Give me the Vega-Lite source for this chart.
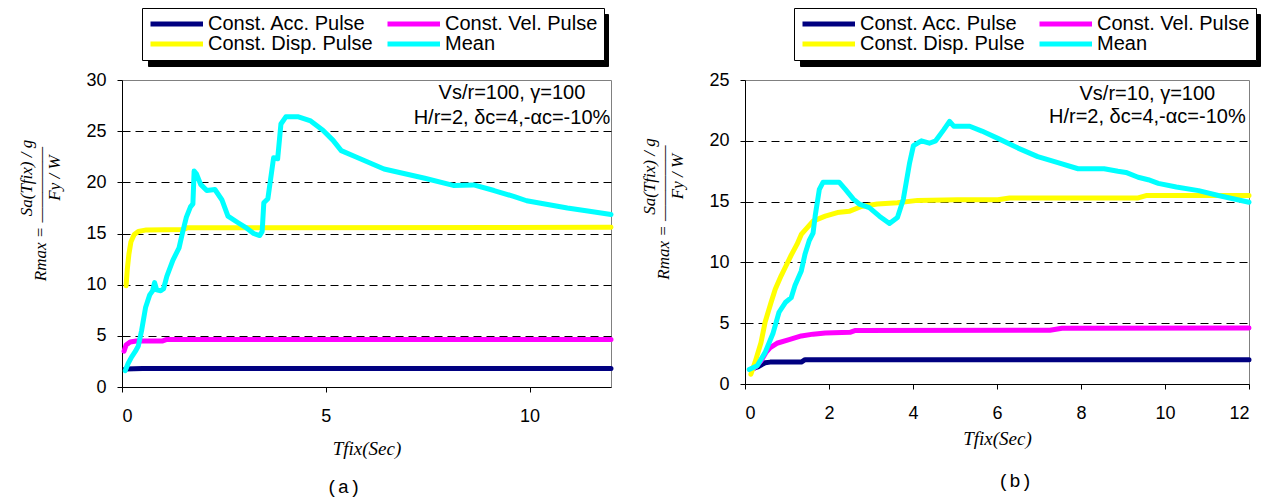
{
  "$schema": "https://vega.github.io/schema/vega-lite/v6.json",
  "padding": {"left": 17, "top": 7, "right": 2, "bottom": 5},
  "background": "white",
  "spacing": 26,
  "datasets": {
    "a": [
      {"s": "Const. Acc. Pulse", "t": 0.08, "r": 1.75},
      {"s": "Const. Acc. Pulse", "t": 0.5, "r": 1.8},
      {"s": "Const. Acc. Pulse", "t": 12, "r": 1.8},
      {"s": "Const. Vel. Pulse", "t": 0.05, "r": 3.5},
      {"s": "Const. Vel. Pulse", "t": 0.1, "r": 4.1},
      {"s": "Const. Vel. Pulse", "t": 0.2, "r": 4.4},
      {"s": "Const. Vel. Pulse", "t": 0.35, "r": 4.5},
      {"s": "Const. Vel. Pulse", "t": 1.0, "r": 4.5},
      {"s": "Const. Vel. Pulse", "t": 1.1, "r": 4.65},
      {"s": "Const. Vel. Pulse", "t": 12, "r": 4.65},
      {"s": "Const. Disp. Pulse", "t": 0.1, "r": 9.9},
      {"s": "Const. Disp. Pulse", "t": 0.13, "r": 11.5},
      {"s": "Const. Disp. Pulse", "t": 0.17, "r": 13.0},
      {"s": "Const. Disp. Pulse", "t": 0.22, "r": 14.2},
      {"s": "Const. Disp. Pulse", "t": 0.3, "r": 14.9},
      {"s": "Const. Disp. Pulse", "t": 0.4, "r": 15.2},
      {"s": "Const. Disp. Pulse", "t": 0.6, "r": 15.35},
      {"s": "Const. Disp. Pulse", "t": 1.5, "r": 15.4},
      {"s": "Const. Disp. Pulse", "t": 1.6, "r": 15.55},
      {"s": "Const. Disp. Pulse", "t": 12, "r": 15.6},
      {"s": "Mean", "t": 0.08, "r": 1.6},
      {"s": "Mean", "t": 0.15, "r": 2.3},
      {"s": "Mean", "t": 0.23, "r": 2.9},
      {"s": "Mean", "t": 0.33, "r": 3.5},
      {"s": "Mean", "t": 0.4, "r": 4.0},
      {"s": "Mean", "t": 0.48, "r": 5.5},
      {"s": "Mean", "t": 0.58, "r": 7.8},
      {"s": "Mean", "t": 0.68, "r": 9.0},
      {"s": "Mean", "t": 0.75, "r": 9.4},
      {"s": "Mean", "t": 0.8, "r": 10.2},
      {"s": "Mean", "t": 0.85, "r": 9.5},
      {"s": "Mean", "t": 0.95, "r": 9.4},
      {"s": "Mean", "t": 1.02, "r": 9.6},
      {"s": "Mean", "t": 1.1, "r": 10.8},
      {"s": "Mean", "t": 1.25, "r": 12.4},
      {"s": "Mean", "t": 1.4, "r": 13.6},
      {"s": "Mean", "t": 1.48, "r": 15.0},
      {"s": "Mean", "t": 1.58, "r": 16.6},
      {"s": "Mean", "t": 1.68, "r": 17.6},
      {"s": "Mean", "t": 1.74, "r": 17.9},
      {"s": "Mean", "t": 1.77, "r": 21.1},
      {"s": "Mean", "t": 1.83, "r": 20.8},
      {"s": "Mean", "t": 1.93, "r": 19.8},
      {"s": "Mean", "t": 2.08, "r": 19.2},
      {"s": "Mean", "t": 2.28, "r": 19.3},
      {"s": "Mean", "t": 2.45, "r": 18.3},
      {"s": "Mean", "t": 2.6, "r": 16.7},
      {"s": "Mean", "t": 2.83, "r": 16.1},
      {"s": "Mean", "t": 3.03, "r": 15.6},
      {"s": "Mean", "t": 3.23, "r": 15.0},
      {"s": "Mean", "t": 3.38, "r": 14.8},
      {"s": "Mean", "t": 3.44, "r": 15.2},
      {"s": "Mean", "t": 3.48, "r": 18.0},
      {"s": "Mean", "t": 3.58, "r": 18.4},
      {"s": "Mean", "t": 3.72, "r": 22.4},
      {"s": "Mean", "t": 3.82, "r": 22.3},
      {"s": "Mean", "t": 3.9, "r": 25.7},
      {"s": "Mean", "t": 4.02, "r": 26.4},
      {"s": "Mean", "t": 4.33, "r": 26.4},
      {"s": "Mean", "t": 4.63, "r": 26.0},
      {"s": "Mean", "t": 4.93, "r": 25.1},
      {"s": "Mean", "t": 5.18, "r": 24.1},
      {"s": "Mean", "t": 5.38, "r": 23.1},
      {"s": "Mean", "t": 5.73, "r": 22.5},
      {"s": "Mean", "t": 6.43, "r": 21.3},
      {"s": "Mean", "t": 7.43, "r": 20.4},
      {"s": "Mean", "t": 8.13, "r": 19.7},
      {"s": "Mean", "t": 8.63, "r": 19.75},
      {"s": "Mean", "t": 9.13, "r": 19.2},
      {"s": "Mean", "t": 9.63, "r": 18.6},
      {"s": "Mean", "t": 9.93, "r": 18.2},
      {"s": "Mean", "t": 10.93, "r": 17.5},
      {"s": "Mean", "t": 11.43, "r": 17.2},
      {"s": "Mean", "t": 12, "r": 16.85}
    ],
    "b": [
      {"s": "Const. Acc. Pulse", "t": 0.14, "r": 1.2},
      {"s": "Const. Acc. Pulse", "t": 0.3, "r": 1.4},
      {"s": "Const. Acc. Pulse", "t": 0.48, "r": 1.75},
      {"s": "Const. Acc. Pulse", "t": 0.6, "r": 1.8},
      {"s": "Const. Acc. Pulse", "t": 1.34, "r": 1.8},
      {"s": "Const. Acc. Pulse", "t": 1.43, "r": 2.0},
      {"s": "Const. Acc. Pulse", "t": 12, "r": 2.0},
      {"s": "Const. Vel. Pulse", "t": 0.14, "r": 1.1},
      {"s": "Const. Vel. Pulse", "t": 0.25, "r": 1.4},
      {"s": "Const. Vel. Pulse", "t": 0.38, "r": 1.9},
      {"s": "Const. Vel. Pulse", "t": 0.5, "r": 2.6},
      {"s": "Const. Vel. Pulse", "t": 0.6, "r": 3.0},
      {"s": "Const. Vel. Pulse", "t": 0.76, "r": 3.35},
      {"s": "Const. Vel. Pulse", "t": 1.05, "r": 3.65},
      {"s": "Const. Vel. Pulse", "t": 1.34, "r": 3.95},
      {"s": "Const. Vel. Pulse", "t": 1.62, "r": 4.1},
      {"s": "Const. Vel. Pulse", "t": 1.91, "r": 4.2},
      {"s": "Const. Vel. Pulse", "t": 2.5, "r": 4.25},
      {"s": "Const. Vel. Pulse", "t": 2.63, "r": 4.4},
      {"s": "Const. Vel. Pulse", "t": 7.26, "r": 4.42},
      {"s": "Const. Vel. Pulse", "t": 7.55, "r": 4.58},
      {"s": "Const. Vel. Pulse", "t": 12, "r": 4.6},
      {"s": "Const. Disp. Pulse", "t": 0.14, "r": 0.8},
      {"s": "Const. Disp. Pulse", "t": 0.24, "r": 1.8},
      {"s": "Const. Disp. Pulse", "t": 0.38, "r": 3.4},
      {"s": "Const. Disp. Pulse", "t": 0.48, "r": 5.1},
      {"s": "Const. Disp. Pulse", "t": 0.62, "r": 6.7},
      {"s": "Const. Disp. Pulse", "t": 0.72, "r": 7.8},
      {"s": "Const. Disp. Pulse", "t": 0.86, "r": 8.9},
      {"s": "Const. Disp. Pulse", "t": 0.96, "r": 9.6},
      {"s": "Const. Disp. Pulse", "t": 1.1, "r": 10.6},
      {"s": "Const. Disp. Pulse", "t": 1.24, "r": 11.5},
      {"s": "Const. Disp. Pulse", "t": 1.34, "r": 12.3},
      {"s": "Const. Disp. Pulse", "t": 1.62, "r": 13.4},
      {"s": "Const. Disp. Pulse", "t": 1.91, "r": 13.8},
      {"s": "Const. Disp. Pulse", "t": 2.2, "r": 14.1},
      {"s": "Const. Disp. Pulse", "t": 2.48, "r": 14.2},
      {"s": "Const. Disp. Pulse", "t": 2.77, "r": 14.6},
      {"s": "Const. Disp. Pulse", "t": 3.15, "r": 14.8},
      {"s": "Const. Disp. Pulse", "t": 3.63, "r": 14.9},
      {"s": "Const. Disp. Pulse", "t": 4.11, "r": 15.1},
      {"s": "Const. Disp. Pulse", "t": 5.06, "r": 15.15},
      {"s": "Const. Disp. Pulse", "t": 6.02, "r": 15.15},
      {"s": "Const. Disp. Pulse", "t": 6.3, "r": 15.3},
      {"s": "Const. Disp. Pulse", "t": 9.36, "r": 15.3},
      {"s": "Const. Disp. Pulse", "t": 9.55, "r": 15.5},
      {"s": "Const. Disp. Pulse", "t": 12, "r": 15.5},
      {"s": "Mean", "t": 0.1, "r": 1.2},
      {"s": "Mean", "t": 0.29, "r": 1.5},
      {"s": "Mean", "t": 0.48, "r": 2.6},
      {"s": "Mean", "t": 0.67, "r": 4.2},
      {"s": "Mean", "t": 0.81, "r": 5.9},
      {"s": "Mean", "t": 0.96, "r": 6.7},
      {"s": "Mean", "t": 1.1, "r": 7.1},
      {"s": "Mean", "t": 1.19, "r": 8.1},
      {"s": "Mean", "t": 1.34, "r": 9.3},
      {"s": "Mean", "t": 1.43, "r": 10.7},
      {"s": "Mean", "t": 1.53, "r": 11.8},
      {"s": "Mean", "t": 1.62, "r": 12.4},
      {"s": "Mean", "t": 1.67, "r": 13.8},
      {"s": "Mean", "t": 1.77, "r": 16.0},
      {"s": "Mean", "t": 1.86, "r": 16.6},
      {"s": "Mean", "t": 2.24, "r": 16.6},
      {"s": "Mean", "t": 2.39, "r": 16.0},
      {"s": "Mean", "t": 2.58, "r": 15.2},
      {"s": "Mean", "t": 2.72, "r": 14.8},
      {"s": "Mean", "t": 2.96, "r": 14.5},
      {"s": "Mean", "t": 3.2, "r": 13.8},
      {"s": "Mean", "t": 3.44, "r": 13.2},
      {"s": "Mean", "t": 3.63, "r": 13.7},
      {"s": "Mean", "t": 3.77, "r": 15.2},
      {"s": "Mean", "t": 3.92, "r": 18.2},
      {"s": "Mean", "t": 4.01, "r": 19.6},
      {"s": "Mean", "t": 4.2, "r": 20.0},
      {"s": "Mean", "t": 4.39, "r": 19.8},
      {"s": "Mean", "t": 4.54, "r": 20.0},
      {"s": "Mean", "t": 4.73, "r": 20.9},
      {"s": "Mean", "t": 4.87, "r": 21.6},
      {"s": "Mean", "t": 4.97, "r": 21.2},
      {"s": "Mean", "t": 5.35, "r": 21.2},
      {"s": "Mean", "t": 5.64, "r": 20.8},
      {"s": "Mean", "t": 6.02, "r": 20.2},
      {"s": "Mean", "t": 6.5, "r": 19.4},
      {"s": "Mean", "t": 6.97, "r": 18.7},
      {"s": "Mean", "t": 7.45, "r": 18.2},
      {"s": "Mean", "t": 7.93, "r": 17.7},
      {"s": "Mean", "t": 8.55, "r": 17.7},
      {"s": "Mean", "t": 8.88, "r": 17.5},
      {"s": "Mean", "t": 9.07, "r": 17.4},
      {"s": "Mean", "t": 9.36, "r": 17.0},
      {"s": "Mean", "t": 9.6, "r": 16.8},
      {"s": "Mean", "t": 9.84, "r": 16.5},
      {"s": "Mean", "t": 10.27, "r": 16.2},
      {"s": "Mean", "t": 10.8, "r": 15.9},
      {"s": "Mean", "t": 11.27, "r": 15.5},
      {"s": "Mean", "t": 12, "r": 14.95}
    ]
  },
  "config": {
    "view": {"stroke": "#808080", "strokeWidth": 1},
    "axis": {
      "domainColor": "black",
      "tickColor": "black",
      "tickSize": 5,
      "labelFont": "Liberation Sans",
      "labelFontSize": 18,
      "labelColor": "black",
      "titleFont": "Liberation Serif",
      "titleFontStyle": "italic",
      "titleFontWeight": "normal",
      "titleColor": "black"
    },
    "legend": {
      "orient": "none",
      "legendY": -72,
      "columns": 2,
      "symbolType": "M-1.5,0H9",
      "symbolSize": 100,
      "symbolStrokeWidth": 5,
      "labelFont": "Liberation Sans",
      "labelFontSize": 20,
      "labelOffset": 40,
      "labelColor": "black",
      "labelLimit": 300,
      "strokeColor": "black",
      "fillColor": "white",
      "padding": 6,
      "rowPadding": 0,
      "columnPadding": 4
    },
    "title": {"font": "Liberation Mono", "fontSize": 19, "fontWeight": "normal", "color": "black"}
  },
  "hconcat": [
    {
      "width": 489,
      "height": 307,
      "title": {"text": "(a)", "orient": "bottom", "dx": -23, "offset": 20},
      "layer": [
        {
          "data": {"name": "a"},
          "mark": {"type": "line", "strokeWidth": 5, "strokeJoin": "round", "strokeCap": "round"},
          "encoding": {
            "x": {
              "field": "t", "type": "quantitative",
              "scale": {"domain": [0, 12], "nice": false},
              "axis": {"values": [0, 5, 10], "title": "Tfix(Sec)", "labelPadding": 15, "titleFontSize": 19, "titlePadding": 14, "grid": false}
            },
            "y": {
              "field": "r", "type": "quantitative",
              "scale": {"domain": [0, 30], "nice": false},
              "axis": {
                "values": [0, 5, 10, 15, 20, 25, 30],
                "title": ["\u2800\u2800\u2800\u2800\u2800\u2800Sa(Tfix) / g", "Rmax = \u2014\u2014\u2014\u2014\u2014", "\u2800\u2800\u2800\u2800\u2800\u2800Fy / W"],
                "titleFontSize": 17,
                "titleLineHeight": 14,
                "titlePadding": 22,
                "titleY": 133.5,
                "labelPadding": 11,
                "grid": true,
                "gridColor": "black",
                "gridDash": [8, 5],
                "gridOpacity": {"condition": {"test": "datum.value == 0 || datum.value == 30", "value": 0}, "value": 1}
              }
            },
            "color": {
              "field": "s", "type": "nominal",
              "scale": {"domain": ["Const. Acc. Pulse", "Const. Disp. Pulse", "Const. Vel. Pulse", "Mean"], "range": ["#000080", "#FFFF00", "#FF00FF", "#00FFFF"]},
              "legend": {"title": null, "legendX": 20, "zindex": 2}
            },
            "opacity": {
              "field": "s", "type": "nominal",
              "scale": {"domain": ["Const. Acc. Pulse", "Const. Vel. Pulse", "Const. Disp. Pulse", "Mean"], "range": [1, 1, 1, 1]},
              "legend": {"title": null, "legendX": 26, "legendY": -66, "zindex": 1, "labelExpr": "''", "labelOffset": 198, "fillColor": "black", "strokeColor": "black", "symbolStrokeColor": "black", "symbolFillColor": "black"}
            }
          }
        },
        {
          "data": {"values": [{}]},
          "mark": {"type": "text", "font": "Liberation Sans", "fontSize": 20, "lineHeight": 25, "align": "center", "baseline": "middle", "color": "black"},
          "encoding": {
            "x": {"datum": 9.57},
            "y": {"datum": 28.7},
            "text": {"value": ["Vs/r=100, γ=100", "H/r=2, δc=4,-αc=-10%"]}
          }
        }
      ]
    },
    {
      "width": 504,
      "height": 304,
      "title": {"text": "(b)", "orient": "bottom", "dx": 18, "offset": 24},
      "layer": [
        {
          "data": {"name": "b"},
          "mark": {"type": "line", "strokeWidth": 5, "strokeJoin": "round", "strokeCap": "round"},
          "encoding": {
            "x": {
              "field": "t", "type": "quantitative",
              "scale": {"domain": [0, 12], "nice": false},
              "axis": {"values": [0, 2, 4, 6, 8, 10, 12], "title": "Tfix(Sec)", "labelPadding": 15, "titleFontSize": 19, "titlePadding": 7, "grid": false}
            },
            "y": {
              "field": "r", "type": "quantitative",
              "scale": {"domain": [0, 25], "nice": false},
              "axis": {
                "values": [0, 5, 10, 15, 20, 25],
                "title": ["\u2800\u2800\u2800\u2800\u2800\u2800Sa(Tfix) / g", "Rmax = \u2014\u2014\u2014\u2014\u2014", "\u2800\u2800\u2800\u2800\u2800\u2800Fy / W"],
                "titleFontSize": 17,
                "titleLineHeight": 14,
                "titlePadding": 22,
                "titleY": 132,
                "labelPadding": 11,
                "grid": true,
                "gridColor": "black",
                "gridDash": [8, 5],
                "gridOpacity": {"condition": {"test": "datum.value == 0 || datum.value == 25", "value": 0}, "value": 1}
              }
            },
            "color": {
              "field": "s", "type": "nominal",
              "scale": {"domain": ["Const. Acc. Pulse", "Const. Disp. Pulse", "Const. Vel. Pulse", "Mean"], "range": ["#000080", "#FFFF00", "#FF00FF", "#00FFFF"]},
              "legend": {"title": null, "legendX": 49, "zindex": 2}
            },
            "opacity": {
              "field": "s", "type": "nominal",
              "scale": {"domain": ["Const. Acc. Pulse", "Const. Vel. Pulse", "Const. Disp. Pulse", "Mean"], "range": [1, 1, 1, 1]},
              "legend": {"title": null, "legendX": 55, "legendY": -66, "zindex": 1, "labelExpr": "''", "labelOffset": 198, "fillColor": "black", "strokeColor": "black", "symbolStrokeColor": "black", "symbolFillColor": "black"}
            }
          }
        },
        {
          "data": {"values": [{}]},
          "mark": {"type": "text", "font": "Liberation Sans", "fontSize": 20, "lineHeight": 23, "align": "center", "baseline": "middle", "color": "black"},
          "encoding": {
            "x": {"datum": 9.58},
            "y": {"datum": 23.85},
            "text": {"value": ["Vs/r=10, γ=100", "H/r=2, δc=4,-αc=-10%"]}
          }
        }
      ]
    }
  ],
  "resolve": {"scale": {"color": "independent", "opacity": "independent"}, "legend": {"color": "independent", "opacity": "independent"}}
}
